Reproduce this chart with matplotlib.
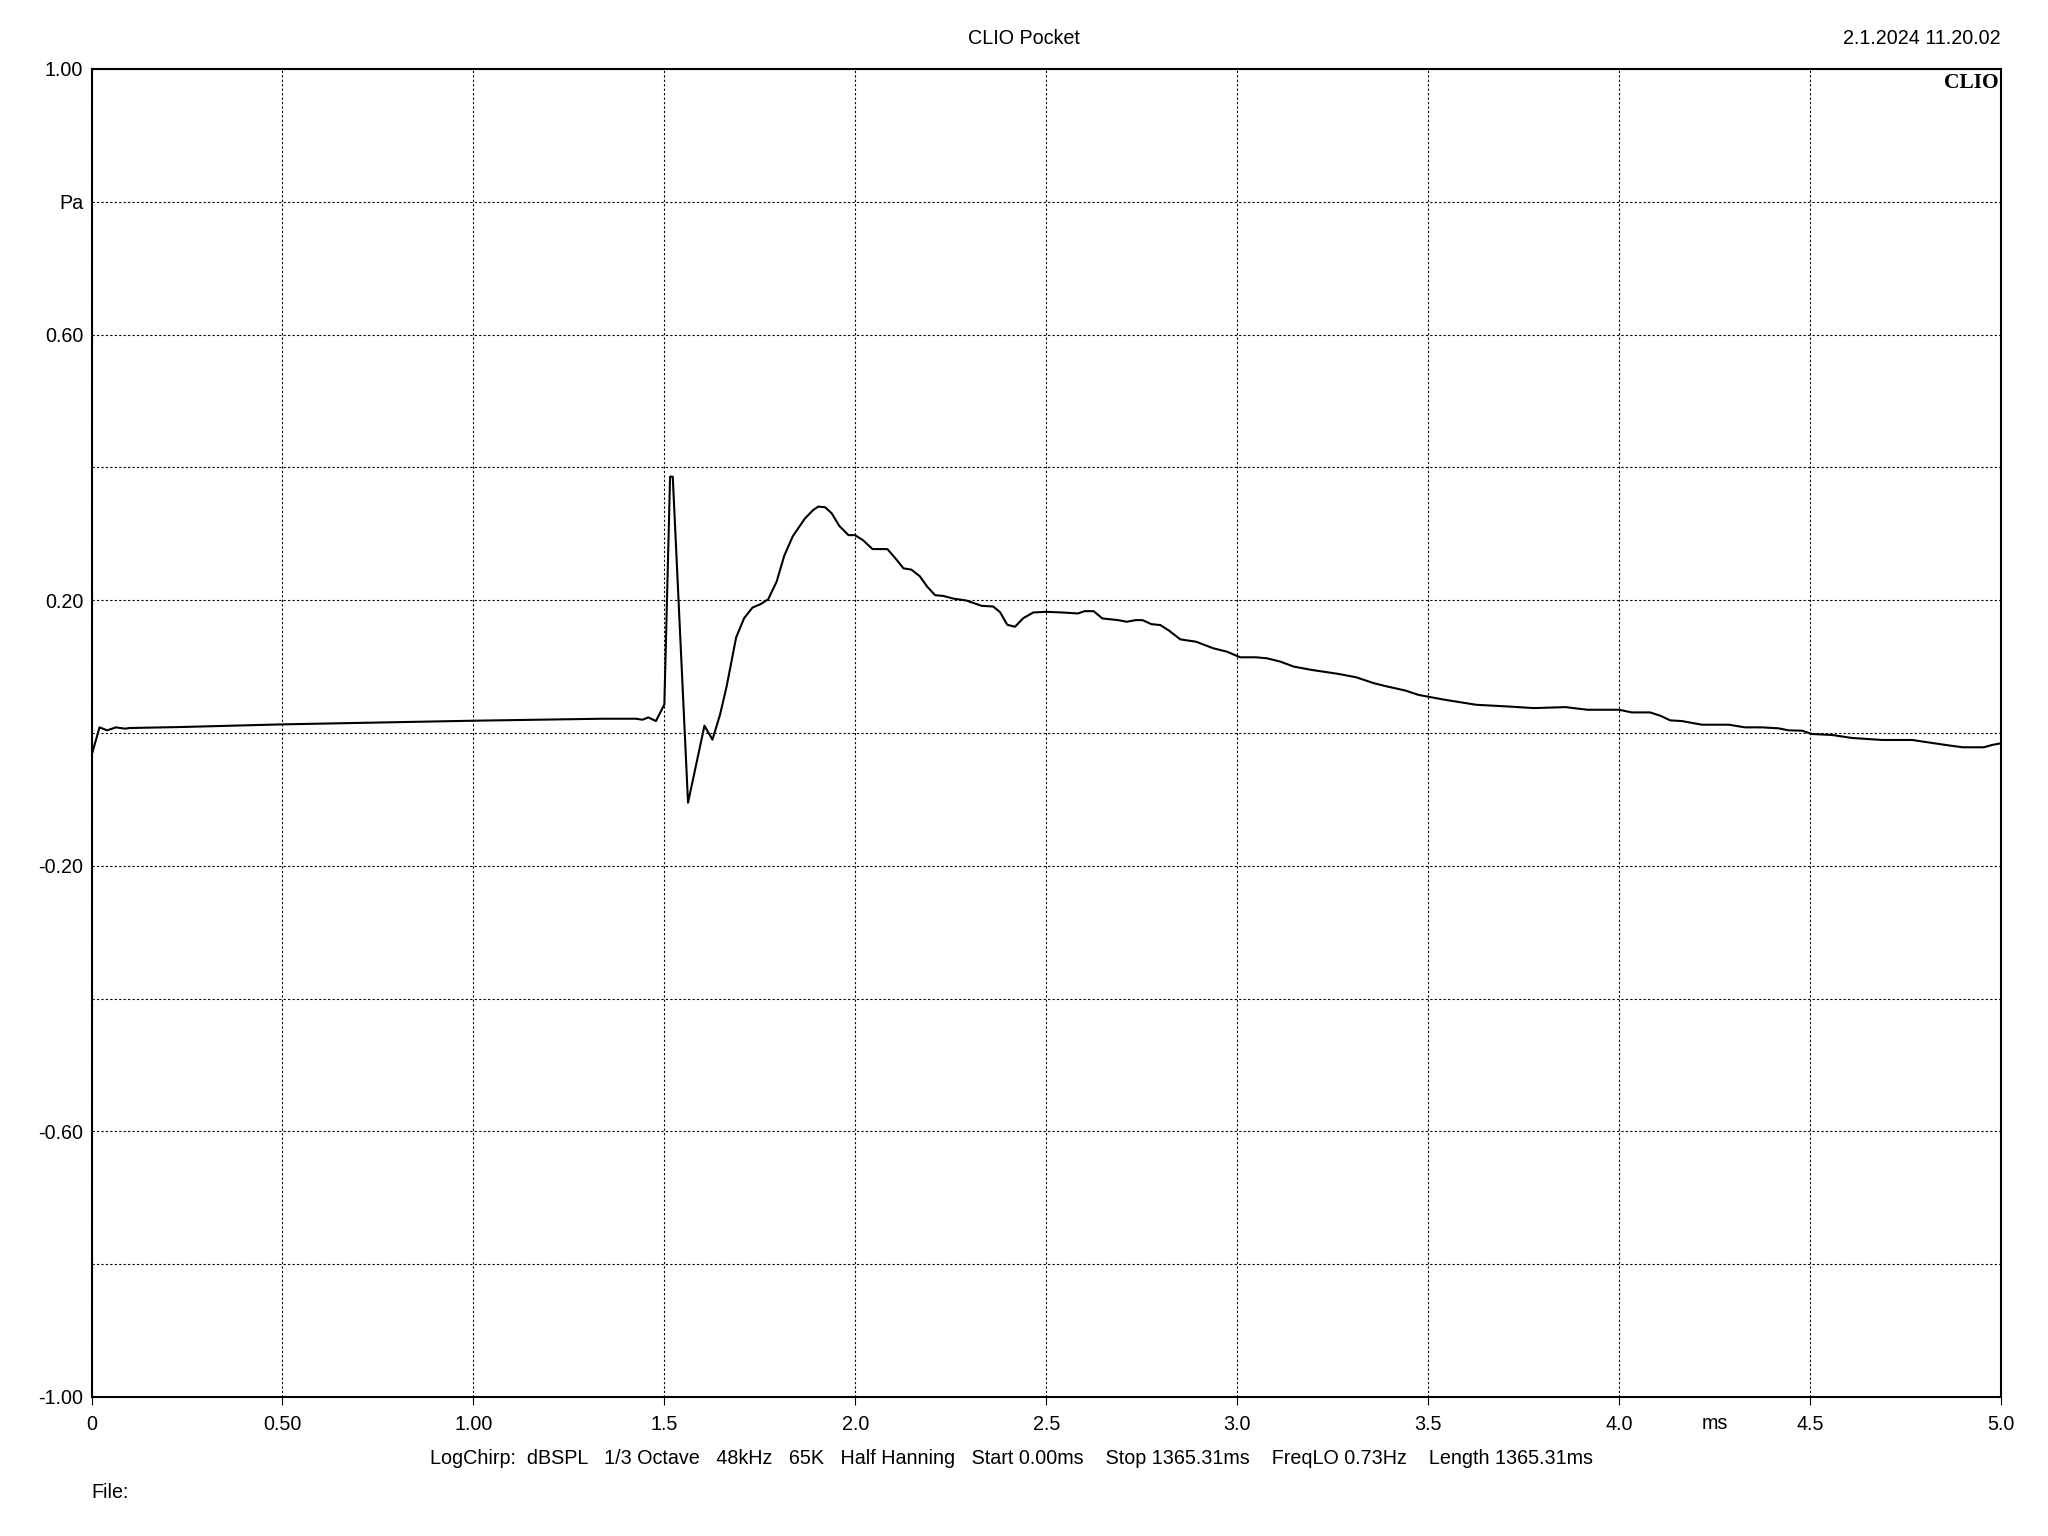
import matplotlib
matplotlib.use("Agg")
import matplotlib.pyplot as plt

plt.rcParams['font.family'] = ['Liberation Sans', 'DejaVu Sans']

# impulse response (time in ms, pressure in Pa)
time_ms = [0.0, 0.021, 0.041, 0.064, 0.088, 0.099, 0.234, 0.5, 1.0, 1.338,
           1.425, 1.443, 1.458, 1.478, 1.500, 1.515, 1.522, 1.562, 1.605, 1.626,
           1.646, 1.663, 1.688, 1.709, 1.731, 1.752, 1.772, 1.794, 1.814, 1.836,
           1.868, 1.890, 1.903, 1.921, 1.938, 1.958, 1.982, 1.999, 2.021, 2.045,
           2.084, 2.108, 2.126, 2.147, 2.169, 2.188, 2.209, 2.230, 2.256, 2.291,
           2.331, 2.361, 2.379, 2.398, 2.418, 2.440, 2.466, 2.500, 2.542, 2.583,
           2.600, 2.624, 2.647, 2.688, 2.711, 2.734, 2.752, 2.775, 2.799, 2.822,
           2.851, 2.892, 2.938, 2.973, 3.008, 3.049, 3.078, 3.113, 3.148, 3.195,
           3.265, 3.311, 3.358, 3.393, 3.440, 3.474, 3.544, 3.626, 3.707, 3.777,
           3.859, 3.917, 4.000, 4.033, 4.081, 4.108, 4.134, 4.164, 4.217, 4.287,
           4.330, 4.374, 4.418, 4.444, 4.479, 4.505, 4.558, 4.610, 4.689, 4.767,
           4.855, 4.899, 4.955, 4.977, 5.0]
pressure = [-0.034, 0.0085, 0.004, 0.0085, 0.0065, 0.0075, 0.009, 0.013, 0.0185, 0.0215,
            0.0215, 0.020, 0.0235, 0.018, 0.043, 0.386, 0.386, -0.105, 0.011, -0.010,
            0.028, 0.070, 0.144, 0.173, 0.189, 0.194, 0.2015, 0.228, 0.267, 0.296,
            0.323, 0.336, 0.341, 0.340, 0.331, 0.312, 0.298, 0.298, 0.290, 0.277,
            0.277, 0.261, 0.248, 0.246, 0.236, 0.2206, 0.2075, 0.2065, 0.2025, 0.1995,
            0.1915, 0.1905, 0.182, 0.163, 0.160, 0.173, 0.1815, 0.1825, 0.1815, 0.180,
            0.1835, 0.1835, 0.1725, 0.170, 0.1675, 0.170, 0.170, 0.164, 0.1625, 0.154,
            0.141, 0.1375, 0.1275, 0.1225, 0.114, 0.114, 0.1125, 0.1075, 0.100, 0.095,
            0.089, 0.084, 0.075, 0.070, 0.064, 0.0575, 0.050, 0.0425, 0.040, 0.0375,
            0.039, 0.035, 0.035, 0.031, 0.031, 0.026, 0.019, 0.018, 0.0125, 0.0125,
            0.0085, 0.0085, 0.007, 0.004, 0.0035, -0.0015, -0.003, -0.0075, -0.0105, -0.0105,
            -0.018, -0.0215, -0.0215, -0.018, -0.0155]

x_ticks = [0, 0.5, 1.0, 1.5, 2.0, 2.5, 3.0, 3.5, 4.0, 4.5, 5.0]
x_labels = ['0', '0.50', '1.00', '1.5', '2.0', '2.5', '3.0', '3.5', '4.0', '4.5', '5.0']
y_ticks = [-1.0, -0.8, -0.6, -0.4, -0.2, 0.0, 0.2, 0.4, 0.6, 0.8, 1.0]
y_labels = ['-1.00', '', '-0.60', '', '-0.20', '', '0.20', '', '0.60', 'Pa', '1.00']

footer = ("LogChirp:  dBSPL   1/3 Octave   48kHz   65K   Half Hanning   Start 0.00ms"
          "    Stop 1365.31ms    FreqLO 0.73Hz    Length 1365.31ms")

fs = 14.2

fig = plt.figure(figsize=(20.48, 15.36), dpi=100)
ax = fig.add_axes([91.5/2048, 1 - 1397/1536, (2001 - 91.5)/2048, (1397 - 69)/1536])

ax.plot(time_ms, pressure, color='black', linewidth=1.5)

ax.set_xlim(0, 5.0)
ax.set_ylim(-1.0, 1.0)
ax.set_xticks(x_ticks)
ax.set_xticklabels(x_labels)
ax.set_yticks(y_ticks)
ax.set_yticklabels(y_labels)
ax.tick_params(axis='x', direction='out', length=6, width=0.8, pad=7, labelsize=fs)
ax.tick_params(axis='y', length=0, pad=6, labelsize=fs)
ax.grid(True, color='black', linestyle=(0, (2, 2)), linewidth=0.8)
for s in ax.spines.values():
    s.set_linewidth(1.5)

# unit label sits among the x tick labels, on the same baseline
ax.annotate('ms', xy=(4.25, -1.0), xytext=(0, -23.3), textcoords='offset points',
            ha='center', va='baseline', fontsize=fs, annotation_clip=False)

ax.text(0.999, 0.997, 'CLIO', transform=ax.transAxes, ha='right', va='top',
        fontsize=15.5, fontweight='bold', family='Liberation Serif')

fig.text(1024/2048, 1 - 38/1536, 'CLIO Pocket', ha='center', va='center', fontsize=fs)
fig.text(2001/2048, 1 - 38/1536, '2.1.2024 11.20.02', ha='right', va='center', fontsize=fs)
fig.text(1011/2048, 1 - 1458/1536, footer, ha='center', va='center', fontsize=fs)
fig.text(91/2048, 1 - 1492/1536, 'File:', ha='left', va='center', fontsize=fs)

plt.savefig('out.png', dpi=100)
